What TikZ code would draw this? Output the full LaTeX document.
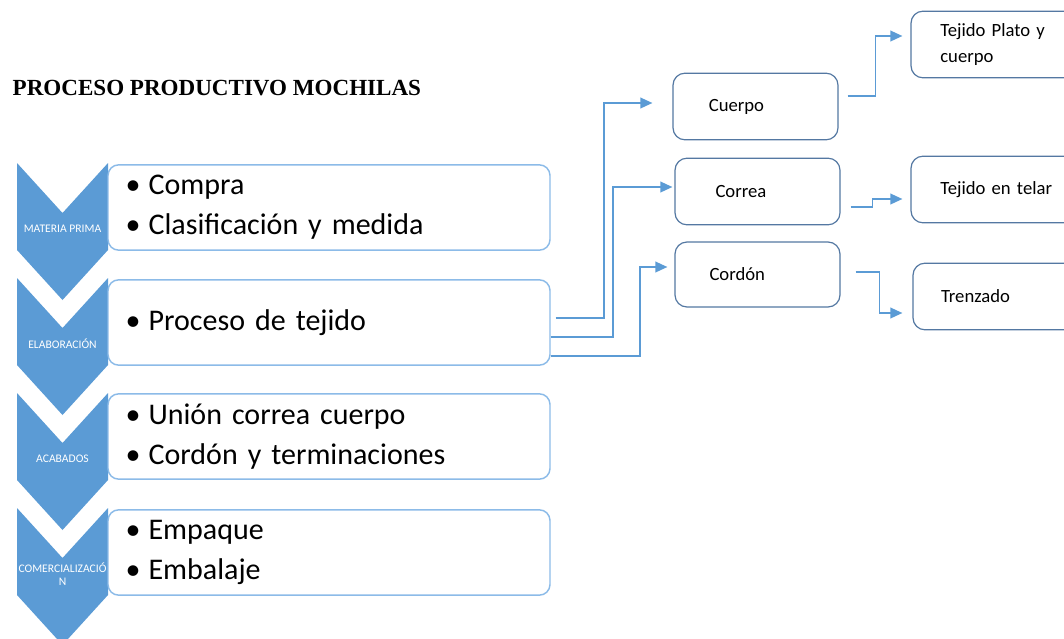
\documentclass[tikz,border=0pt]{standalone}
\usepackage{fontspec}
\setmainfont{Carlito}
\newfontfamily\titlefont{Liberation Serif}
\usetikzlibrary{calc,arrows.meta}
\definecolor{chevblue}{RGB}{91,155,213}
\definecolor{boxline}{RGB}{140,187,232}
\definecolor{darkline}{RGB}{84,120,162}
\def\itm#1{\textbullet\hspace{6pt}#1}

\begin{document}
\begin{tikzpicture}[x=0.75pt,y=-0.75pt,
	chev/.style={fill=chevblue},
	chevtext/.style={text=white,font=\fontsize{8.7}{10}\selectfont,align=center,inner sep=0pt},
	bigbox/.style={draw=boxline,line width=1.1pt,fill=white,rounded corners=8pt,minimum width=331.5pt,minimum height=64pt,text width=305pt,inner xsep=12pt,align=left,font=\fontsize{22.5}{30}\selectfont},
	smallbox/.style={draw=darkline,line width=0.9pt,fill=white,rounded corners=9pt,minimum height=50pt,align=left,font=\fontsize{14}{20}\selectfont},
	flow/.style={draw=chevblue,line width=1.2pt,-{Triangle[length=9pt,width=8pt]}}]
		%%%%% START %%%%%
		\useasboundingbox (0,0) rectangle (1064,639);
		\clip (0,0) rectangle (1064,639);
		
		\node[anchor=west,font=\titlefont\bfseries\fontsize{17.3}{20}\selectfont] (title) at (8,88) {PROCESO PRODUCTIVO MOCHILAS};
		
		% chevrons
		\foreach \t/\lab/\nm in {163/{MATERIA PRIMA}/ch1,278/{ELABORACIÓN}/ch2,393/{ACABADOS}/ch3,508/{COMERCIALIZACIÓ\\N}/ch4}{
			\fill[chev] (17,\t) -- (62.5,\t+50) -- (108,\t) -- (108,\t+87) -- (62.5,\t+137) -- (17,\t+87) -- cycle;
			\node[chevtext] (\nm) at (62.5,\t+66) {\lab};
		}
		
		% stage boxes
		\node[bigbox] (mp) at (329,207.5) {\itm{Compra}\\\itm{Clasificación y medida}};
		\node[bigbox] (elab) at (329,322.5) {\itm{Proceso de tejido}};
		\node[bigbox] (acab) at (329,436.5) {\itm{Unión correa cuerpo}\\\itm{Cordón y terminaciones}};
		\node[bigbox] (comer) at (329,552.5) {\itm{Empaque}\\\itm{Embalaje}};
		
		% parts
		\node[smallbox,minimum width=123.75pt,text width=70pt,inner xsep=26pt] (cuerpo) at (755.5,106.5) {Cuerpo\\[-4pt]};
		\node[smallbox,minimum width=123.75pt,text width=63pt,inner xsep=29pt] (correa) at (757.5,191.5) {Correa\\[-4pt]};
		\node[smallbox,minimum width=123.75pt,text width=72pt,inner xsep=24pt,minimum height=48.75pt] (cordon) at (757.5,274.5) {Cordón\\[-4pt]};
		
		\node[smallbox,minimum width=150pt,text width=106pt,inner xsep=22pt] (plato) at (1011,44.5) {Tejido Plato y\\cuerpo};
		\node[smallbox,minimum width=150pt,text width=106pt,inner xsep=22pt] (telar) at (1011,189.5) {Tejido en telar\\[-4pt]};
		\node[smallbox,minimum width=150pt,text width=108pt,inner xsep=20pt] (trenz) at (1013,296.5) {Trenzado\\[-4pt]};
		
		% connectors
		\draw[flow] ($(elab.east)+(5,-4.5)$) -- ++(48,0) |- ($(cuerpo.west)+(-20,-3.5)$);
		\draw[flow] ($(elab.east)+(0,14.5)$) -- ++(62,0) |- ($(correa.west)+(-2,-4.5)$);
		\draw[flow] ($(elab.east)+(0,33.5)$) -- ++(89,0) |- ($(cordon.west)+(-7,-7.5)$);
		
		\draw[flow] ($(cuerpo.east)+(9,-10.5)$) -- ++(28,0) |- ($(plato.west)+(-8,-8.5)$);
		\draw[flow] ($(correa.east)+(10,15.5)$) -- ++(22,0) |- ($(telar.west)+(-8,9.5)$);
		\draw[flow] ($(cordon.east)+(15,-2.5)$) -- ++(24,0) |- ($(trenz.west)+(-10,16.5)$);
		%%%%% END %%%%%
\end{tikzpicture}
\end{document}
